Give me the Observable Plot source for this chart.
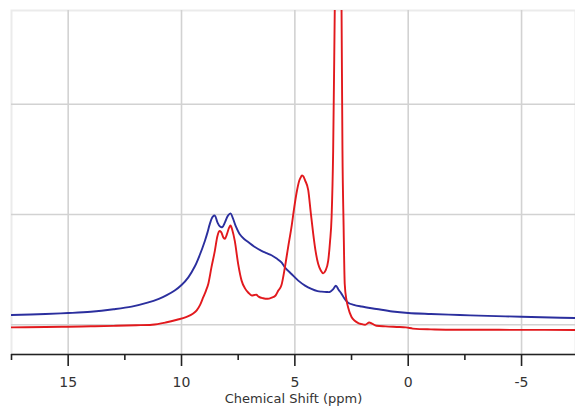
<!DOCTYPE html>
<html>
<head>
<meta charset="utf-8">
<script src="https://cdn.jsdelivr.net/npm/d3@7"></script>
<script src="https://cdn.jsdelivr.net/npm/@observablehq/plot@0.6"></script>
<style>
  html, body { margin: 0; padding: 0; background: #fff; }
</style>
</head>
<body>
<div id="chart"></div>
<script>
// Chemical shift (ppm) and intensity for the red spectrum
const redShift = [17.5, 16, 15, 14, 13, 12, 11.3, 10.7, 10.2, 9.8, 9.5, 9.33, 9.18, 9.04, 8.92, 8.82, 8.68, 8.53, 8.42, 8.33, 8.25, 8.15, 8.08, 8.0, 7.9, 7.84, 7.76, 7.65, 7.5, 7.35, 7.2, 7.05, 6.9, 6.78, 6.7, 6.6, 6.4, 6.2, 6.03, 5.85, 5.73, 5.59, 5.44, 5.3, 5.15, 5.03, 4.93, 4.8, 4.72, 4.68, 4.62, 4.55, 4.41, 4.3, 4.19, 4.08, 3.97, 3.85, 3.75, 3.65, 3.53, 3.45, 3.38, 3.31, 3.24, 3.15, 3.08, 3.0, 2.94, 2.9, 2.85, 2.8, 2.72, 2.65, 2.5, 2.36, 2.2, 2.06, 1.9, 1.72, 1.6, 1.4, 1.0, 0.5, 0.1, -0.2, -0.5, -1, -2, -4, -6, -7.4];
const redValue = [-0.024, -0.02, -0.018, -0.014, -0.01, -0.005, 0.0, 0.02, 0.045, 0.07, 0.1, 0.13, 0.18, 0.25, 0.31, 0.37, 0.52, 0.67, 0.8, 0.85, 0.84, 0.79, 0.78, 0.82, 0.88, 0.9, 0.86, 0.76, 0.55, 0.4, 0.33, 0.29, 0.265, 0.27, 0.272, 0.255, 0.24, 0.235, 0.245, 0.265, 0.31, 0.36, 0.52, 0.7, 0.885, 1.06, 1.19, 1.31, 1.345, 1.355, 1.345, 1.31, 1.22, 1.02, 0.825, 0.66, 0.55, 0.49, 0.466, 0.49, 0.58, 0.75, 0.975, 1.58, 2.85, 4.5, 5.0, 4.2, 2.85, 1.58, 0.9, 0.37, 0.22, 0.157, 0.07, 0.036, 0.015, 0.006, 0.0, 0.02, 0.01, -0.009, -0.015, -0.02, -0.024, -0.035, -0.04, -0.042, -0.045, -0.046, -0.047, -0.048];

// Chemical shift (ppm) and intensity for the blue spectrum
const blueShift = [17.5, 16, 15, 14, 13, 12.2, 11.5, 11.0, 10.65, 10.3, 10.0, 9.7, 9.41, 9.2, 8.97, 8.85, 8.75, 8.62, 8.53, 8.42, 8.3, 8.2, 8.08, 7.95, 7.84, 7.74, 7.6, 7.43, 7.25, 7.06, 6.8, 6.47, 6.25, 6.03, 5.8, 5.59, 5.44, 5.15, 4.85, 4.55, 4.27, 4.0, 3.82, 3.6, 3.45, 3.3, 3.19, 3.08, 2.94, 2.8, 2.65, 2.4, 2.06, 1.4, 0.7, 0, -1, -2.27, -3.5, -5, -6.3, -7.4];
const blueValue = [0.088, 0.097, 0.106, 0.118, 0.14, 0.164, 0.2, 0.235, 0.268, 0.31, 0.36, 0.43, 0.53, 0.63, 0.76, 0.84, 0.915, 0.98, 0.99, 0.93, 0.89, 0.885, 0.93, 0.99, 1.01, 0.97, 0.89, 0.82, 0.78, 0.75, 0.71, 0.67, 0.65, 0.63, 0.6, 0.566, 0.52, 0.46, 0.4, 0.355, 0.325, 0.305, 0.3, 0.297, 0.298, 0.325, 0.355, 0.32, 0.28, 0.235, 0.2, 0.18, 0.165, 0.143, 0.12, 0.106, 0.097, 0.088, 0.08, 0.073, 0.066, 0.061];

const majorTicks = [15, 10, 5, 0, -5];
const minorTicks = [17.5, 12.5, 7.5, 2.5, -2.5];
const gridY = [0, 1, 2];
const xLabel = "Chemical Shift (ppm)";

const red = redShift.map((x, i) => ({x, y: redValue[i]}));
const blue = blueShift.map((x, i) => ({x, y: blueValue[i]}));

const yMin = -0.27, yMax = 2.85;

const chart = Plot.plot({
  width: 575,
  height: 410,
  marginLeft: 11,
  marginRight: 0,
  marginTop: 10,
  marginBottom: 56,
  style: {fontFamily: "DejaVu Sans, Verdana, sans-serif", background: "#fff", color: "#333"},
  x: {domain: [17.5, -7.38]},
  y: {domain: [yMin, yMax], axis: null},
  marks: [
    Plot.frame({stroke: "#ebebeb", strokeWidth: 2}),
    Plot.ruleX(majorTicks, {stroke: "#d2d2d2", strokeWidth: 1.6}),
    Plot.ruleY(gridY, {stroke: "#d2d2d2", strokeWidth: 1.6}),
    Plot.line(blue, {x: "x", y: "y", stroke: "#2b2f9e", strokeWidth: 1.9, curve: "catmull-rom", clip: true}),
    Plot.line(red, {x: "x", y: "y", stroke: "#e2191d", strokeWidth: 1.9, curve: "monotone-x", clip: true}),
    Plot.ruleY([yMin], {stroke: "#222", strokeWidth: 1.6}),
    Plot.axisX(majorTicks, {tickSize: 12, tickPadding: 11, fontSize: 14, stroke: "#222", strokeWidth: 1.6, fill: "#333", label: null, tickFormat: d => String(d)}),
    Plot.axisX(minorTicks, {tickSize: 6, tickFormat: () => "", stroke: "#222", strokeWidth: 1.6, label: null}),
    Plot.text([xLabel], {text: d => d, frameAnchor: "bottom", dy: 48, fontSize: 13, fill: "#333"})
  ]
});
document.getElementById("chart").appendChild(chart);
</script>
</body>
</html>
